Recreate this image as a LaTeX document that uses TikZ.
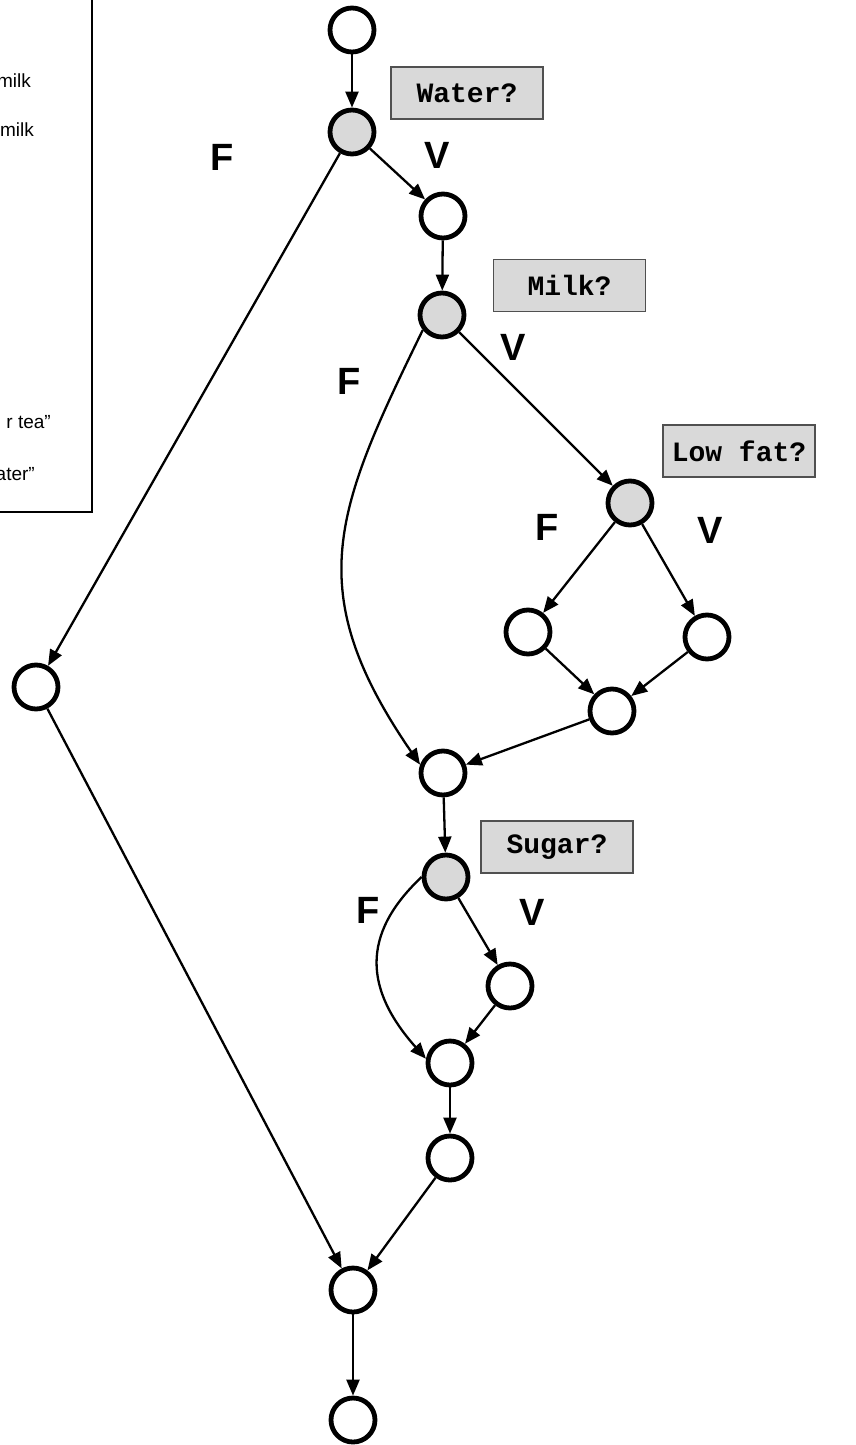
\documentclass[tikz,border=0pt]{standalone}
\usepackage{fontspec}
\setmainfont{Liberation Sans}
\newfontfamily\codefont{Liberation Mono}
\usetikzlibrary{arrows.meta}
\definecolor{decfill}{HTML}{D9D9D9}
\definecolor{boxline}{HTML}{505050}
\begin{document}
\begin{tikzpicture}[x=1pt,y=-1pt,
  vertex/.style={circle,draw,line width=4.8pt,minimum size=44pt,inner sep=0pt,fill=white},
  decision/.style={vertex,fill=decfill},
  question/.style={draw=boxline,fill=decfill,line width=1.5pt,minimum width=152pt,minimum height=52pt,inner sep=0pt,
    font=\codefont\bfseries\fontsize{28}{32}\selectfont},
  branch/.style={font=\bfseries\fontsize{38}{42}\selectfont},
  flow/.style={line width=2.3pt,-{Triangle[length=16pt,width=13pt]}},
  legendtext/.style={anchor=base east,inner sep=0pt,font=\fontsize{19}{23}\selectfont}]
\useasboundingbox (0,0) rectangle (856,1445);

% legend frame, running off the page on the top and left
\draw[line width=1.5pt] (-300,-50) rectangle (92,512);
\node[legendtext] (l1) at (31,88) {milk};
\node[legendtext] (l2) at (34,136) {milk};
\node[legendtext] (l3) at (51,428) {r tea”};
\node[legendtext] (l4) at (35,480) {ater”};

% flow graph vertices
\node[vertex]   (n1)  at (352,30) {};
\node[decision] (n2)  at (352,132) {};
\node[vertex]   (n3)  at (443,216) {};
\node[decision] (n4)  at (442,315) {};
\node[decision] (n5)  at (630,503) {};
\node[vertex]   (n6)  at (528,632) {};
\node[vertex]   (n7)  at (707,637) {};
\node[vertex]   (n8)  at (612,711) {};
\node[vertex]   (n9)  at (443,773) {};
\node[decision] (n10) at (446,877) {};
\node[vertex]   (n11) at (510,986) {};
\node[vertex]   (n12) at (450,1063) {};
\node[vertex]   (n13) at (450,1158) {};
\node[vertex]   (n14) at (353,1290) {};
\node[vertex]   (n15) at (353,1420) {};
\node[vertex]   (nL)  at (36,687) {};

% conditions
\node[question] (q1) at (467,93)  {Water?};
\node[question] (q2) at (569.5,285.5) {Milk?};
\node[question] (q3) at (739,451) {Low fat?};
\node[question] (q4) at (557,847) {Sugar?};

% branch labels
\node[branch] (f1) at (222,157) {F};
\node[branch] (v1) at (437,155) {V};
\node[branch] (f2) at (349,381) {F};
\node[branch] (v2) at (513,347) {V};
\node[branch] (f3) at (547,527) {F};
\node[branch] (v3) at (710,530) {V};
\node[branch] (f4) at (368,910) {F};
\node[branch] (v4) at (532,912) {V};

% edges
\draw[flow] (n1) -- (n2);
\draw[flow] (n2) -- (n3);
\draw[flow] (n2) -- (nL);
\draw[flow] (n3) -- (n4);
\draw[flow] (n4) -- (n5);
\draw[flow] (n4.218) .. controls (335,510) and (300,590) .. (n9.160);
\draw[flow] (n5) -- (n6);
\draw[flow] (n5) -- (n7);
\draw[flow] (n6) -- (n8);
\draw[flow] (n7) -- (n8);
\draw[flow] (n8) -- (n9);
\draw[flow] (n9) -- (n10);
\draw[flow] (n10) -- (n11);
\draw[flow] (n10.180) .. controls (360,935) and (365,990) .. (n12.170);
\draw[flow] (n11) -- (n12);
\draw[flow] (n12) -- (n13);
\draw[flow] (n13) -- (n14);
\draw[flow] (nL) -- (n14);
\draw[flow] (n14) -- (n15);
\end{tikzpicture}
\end{document}
